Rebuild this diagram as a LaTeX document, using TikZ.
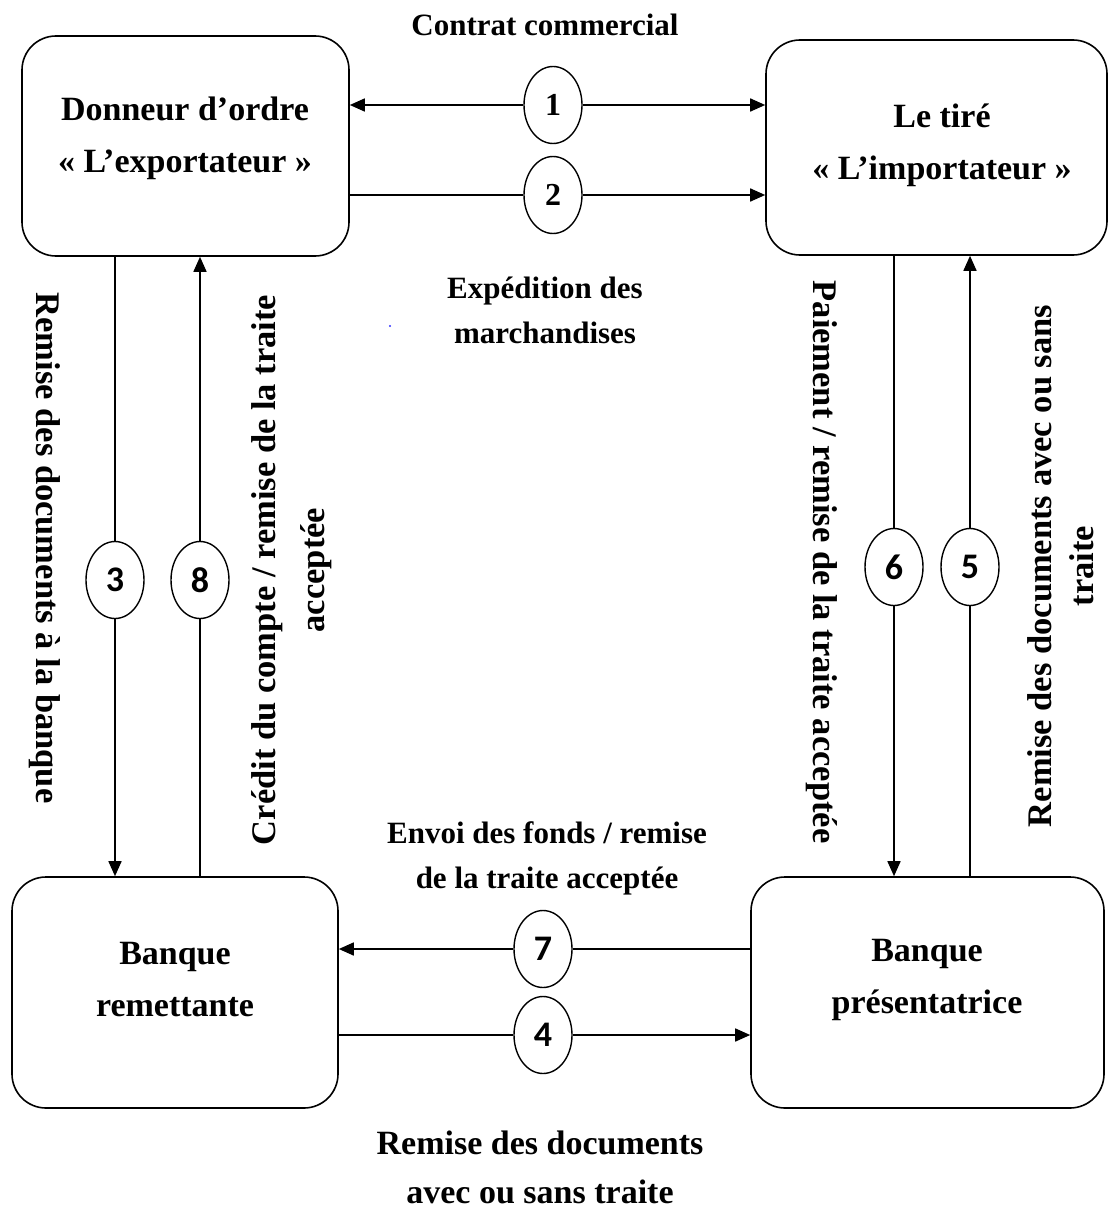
\documentclass[tikz,border=0pt]{standalone}
\usepackage{fontspec}
\setmainfont{Liberation Serif}
\newfontfamily\numfont{Carlito}
\usetikzlibrary{shapes.geometric,arrows.meta}
\begin{document}
\begin{tikzpicture}[x=1pt,y=-1pt,
  party/.style={draw, line width=1.6pt, rounded corners=34pt, inner sep=0pt},
  lbl/.style={font=\bfseries\fontsize{31}{45}\selectfont, align=center, inner sep=0pt},
  vlbl/.style={font=\bfseries\fontsize{34.5}{45}\selectfont, align=center, inner sep=0pt},
  boxlbl/.style={font=\bfseries\fontsize{34}{52}\selectfont, align=center, inner sep=0pt},
  num/.style={draw, ellipse, line width=1.4pt, fill=white, minimum width=58pt,
              minimum height=77pt, inner sep=0pt,
              font=\numfont\bfseries\fontsize{36}{36}\selectfont},
  serifnum/.style={num, font=\bfseries\fontsize{32}{32}\selectfont},
  flow/.style={line width=1.6pt},
  tip/.style={-{Triangle[length=15pt,width=13pt]}},
  pit/.style={{Triangle[length=15pt,width=13pt]}-}
]
\useasboundingbox (0,0) rectangle (1108,1209);

% the four parties
\node[party, minimum width=327pt, minimum height=220pt] (exp) at (185.5,146) {};
\node[party, minimum width=341pt, minimum height=215pt] (imp) at (936.5,147.5) {};
\node[party, minimum width=326pt, minimum height=231pt] (brem) at (175,992.5) {};
\node[party, minimum width=353pt, minimum height=231pt] (bpre) at (927.5,992.5) {};

\node[boxlbl] (explbl) at (185,138) {Donneur d’ordre\\« L’exportateur »};
\node[boxlbl] (implbl) at (942,145) {Le tiré\\« L’importateur »};
\node[boxlbl] (bremlbl) at (175,980) {Banque\\remettante};
\node[boxlbl] (bprelbl) at (927,980) {Banque\\présentatrice};

% numbered steps
\node[serifnum] (n1) at (553,105) {1};
\node[serifnum] (n2) at (553,195) {2};
\node[num] (n3) at (115,580) {3};
\node[num] (n8) at (200,580) {8};
\node[num] (n6) at (894,567) {6};
\node[num] (n5) at (970,567) {5};
\node[num] (n7) at (543,949) {7};
\node[num] (n4) at (543,1035) {4};

% flows between the parties
\draw[flow, pit] (exp.east |- n1) -- (n1.west);
\draw[flow, tip] (n1.east) -- (imp.west |- n1);
\draw[flow] (exp.east |- n2) -- (n2.west);
\draw[flow, tip] (n2.east) -- (imp.west |- n2);

\draw[flow] (exp.south -| n3) -- (n3.north);
\draw[flow, tip] (n3.south) -- (brem.north -| n3);
\draw[flow, pit] (exp.south -| n8) -- (n8.north);
\draw[flow] (n8.south) -- (brem.north -| n8);

\draw[flow] (imp.south -| n6) -- (n6.north);
\draw[flow, tip] (n6.south) -- (bpre.north -| n6);
\draw[flow, pit] (imp.south -| n5) -- (n5.north);
\draw[flow] (n5.south) -- (bpre.north -| n5);

\draw[flow, pit] (brem.east |- n7) -- (n7.west);
\draw[flow] (n7.east) -- (bpre.west |- n7);
\draw[flow] (brem.east |- n4) -- (n4.west);
\draw[flow, tip] (n4.east) -- (bpre.west |- n4);

% flow captions
\node[lbl] (t1) at (545,25) {Contrat commercial};
\node[lbl] (t2) at (545,310) {Expédition des\\marchandises};
\node[lbl] (t7) at (547,858) {Envoi des fonds / remise\\de la traite acceptée};
\node[lbl, font=\bfseries\fontsize{34}{49}\selectfont] (t4) at (540,1167) {Remise des documents\\avec ou sans traite};
\node[vlbl, rotate=-90] (t3) at (45,548) {Remise des documents à la banque};
\node[vlbl, rotate=90, font=\bfseries\fontsize{34.5}{49}\selectfont] (t8) at (292,570) {Crédit du compte / remise de la traite\\acceptée};
\node[vlbl, rotate=-90] (t6) at (822,562) {Paiement / remise de la traite acceptée};
\node[vlbl, rotate=90, font=\bfseries\fontsize{34.5}{42}\selectfont] (t5) at (1061,566) {Remise des documents avec ou sans\\traite};

\fill[blue!80] (390,326) circle (1.2pt);
\end{tikzpicture}
\end{document}
